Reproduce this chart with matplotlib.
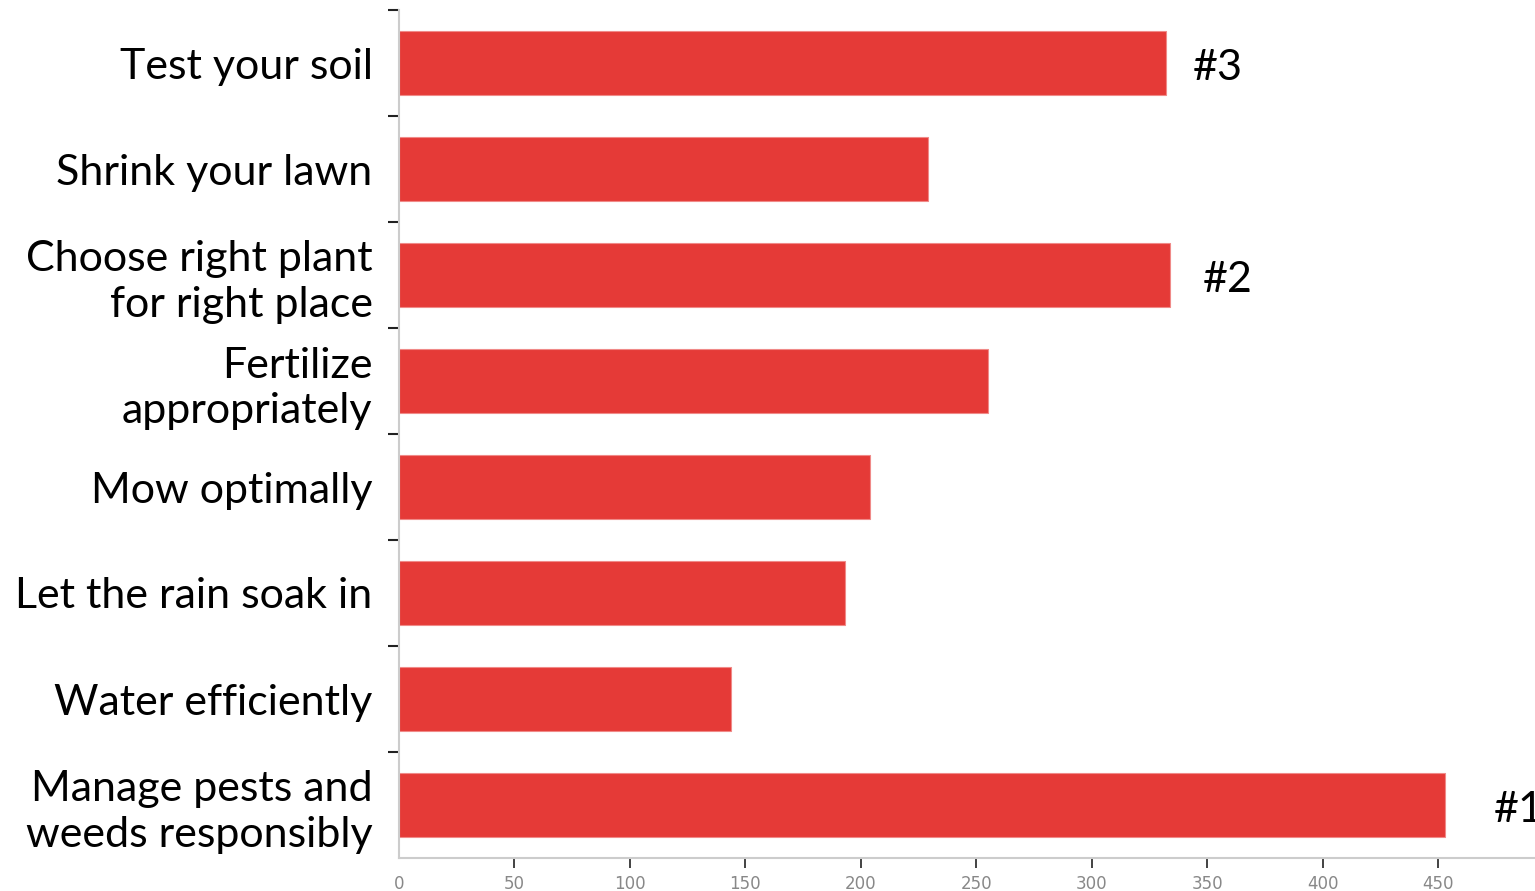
import matplotlib
matplotlib.use("Agg")
import matplotlib.pyplot as plt
import numpy as np

categories = ["Test your soil", "Shrink your lawn", "Choose right plant\nfor right place",
              "Fertilize\nappropriately", "Mow optimally", "Let the rain soak in",
              "Water efficiently", "Manage pests and\nweeds responsibly"]
values = [332, 229, 334, 255, 204, 193, 144, 453]
rank_labels = {0: "#3", 2: "#2", 7: "#1"}
rank_x = {0: 344, 2: 348, 7: 474}
xticks = [0, 50, 100, 150, 200, 250, 300, 350, 400, 450]

fig = plt.figure(figsize=(15.35, 8.91), dpi=100)
ax = fig.add_axes([399/1535, 1 - 858/891, 1 - 399/1535 + 0.05, (858 - 10)/891])

y = np.arange(len(categories))
ax.barh(y, values, height=0.6, color="#E53A37", edgecolor="#F08A88", linewidth=0.8)
ax.set_ylim(len(categories) - 0.5, -0.5)
ax.set_xlim(0, 492 + 0.05 * 1535 / 2.309)

for i, t in rank_labels.items():
    ax.text(rank_x[i], i + 0.05, t, va="center", ha="left", fontsize=31, family="Lato", color="black")

ax.set_yticks(y)
ax.set_yticklabels(categories, fontsize=31, family="Lato", linespacing=1.24)
ax.tick_params(axis="y", which="major", length=0, pad=19)
ax.set_yticks(np.arange(-0.5, len(categories) - 1, 1), minor=True)
ax.tick_params(axis="y", which="minor", length=8, width=1.5, color="#222222")

ax.set_xticks(xticks)
ax.set_xticklabels([str(v) for v in xticks], fontsize=12, color="#888888",
                   family=["Liberation Sans Narrow", "DejaVu Sans"])
ax.tick_params(axis="x", length=7, width=1.2, color="#222222", pad=5, direction="out")
ax.get_xaxis().get_major_ticks()[0].tick1line.set_visible(False)

for s in ["top", "right"]:
    ax.spines[s].set_visible(False)
ax.spines["left"].set_color("#CCCCCC")
ax.spines["bottom"].set_color("#CCCCCC")
ax.spines["left"].set_linewidth(1.5)
ax.spines["bottom"].set_linewidth(1.5)

fig.savefig("out.png", dpi=100)
